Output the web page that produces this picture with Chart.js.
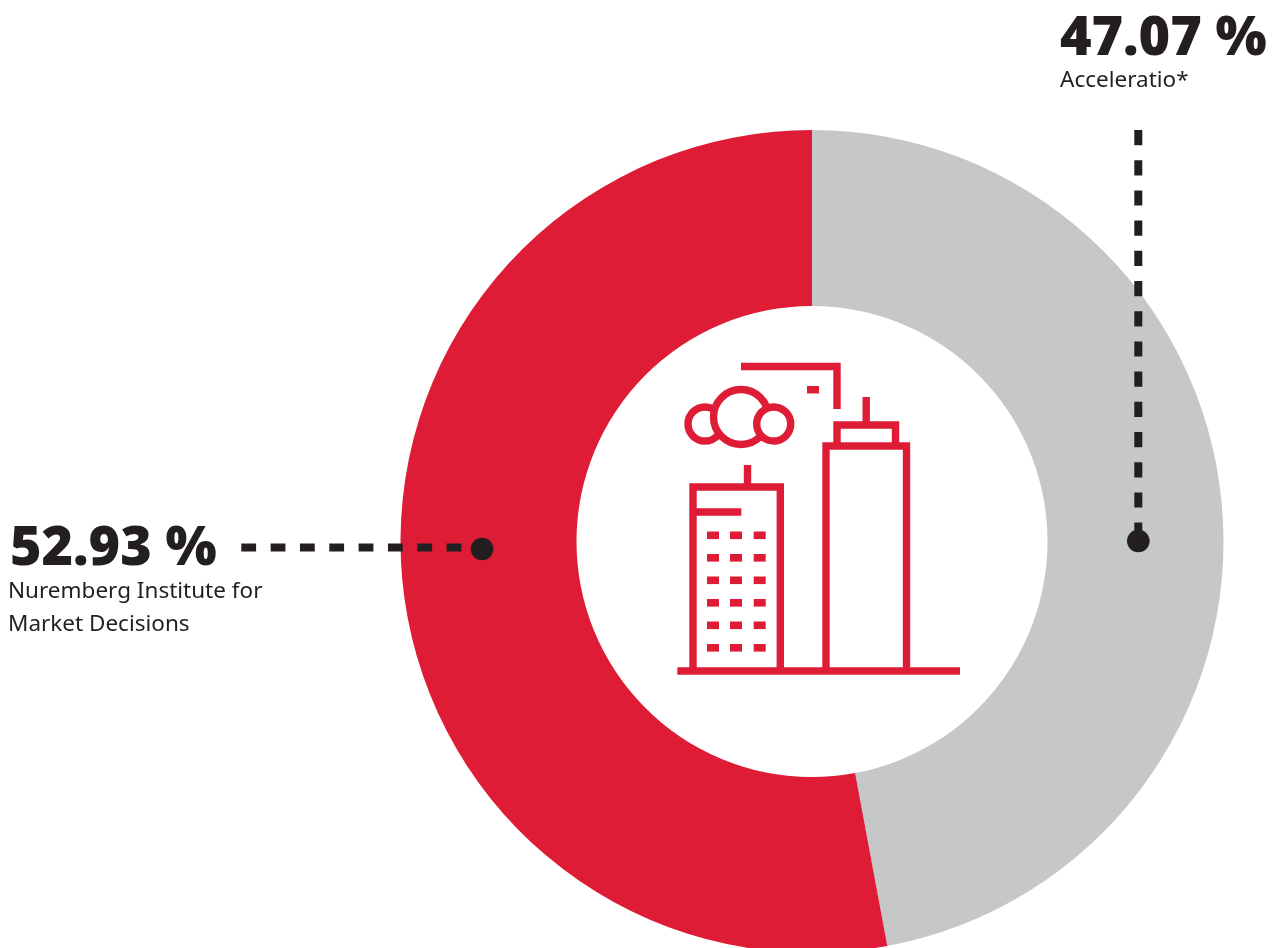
<!DOCTYPE html>
<html>
<head>
<meta charset="utf-8">
<title>Donut</title>
<script src="https://cdn.jsdelivr.net/npm/chart.js@4/dist/chart.umd.min.js"></script>
<style>
  html, body { margin: 0; padding: 0; background: #fff; overflow: hidden; }
  #wrap { position: relative; width: 1282px; height: 948px; overflow: hidden; }
  #wrap canvas { position: absolute; left: 0; top: 0; }
  .pct, .lbl { position: absolute; color: #231f20; white-space: nowrap; }
  .pct { font-family: "Open Sans", sans-serif; font-weight: 800; font-size: 54px; line-height: 54px; letter-spacing: -0.1px; }
  .lbl { font-family: "Noto Sans", sans-serif; font-weight: 400; font-size: 22.5px; line-height: 33px; }
  #icon { position: absolute; left: 0; top: 0; }
</style>
</head>
<body>
<div id="wrap">
  <canvas id="myChart" width="1282" height="953"></canvas>
  <svg id="icon" width="1282" height="948" fill="none" stroke="#df1c35" stroke-width="7.4">
    <path d="M741 366.5H837V409"/>
    <rect x="807" y="386" width="12" height="7.5" fill="#df1c35" stroke="none"/>
    <circle cx="705" cy="424" r="17"/>
    <circle cx="741" cy="417" r="27.5" fill="#fff"/>
    <circle cx="773.7" cy="424" r="17" fill="#fff"/>
    <path d="M693 671V487H780.3V671M747.5 465V487M693 512H741.3"/>
    <path d="M826 671V446H906.5V671M837 446V425H895.5V446M866.2 397V425"/>
    <path d="M677.3 671H960"/>
    <g id="windows" fill="#df1c35" stroke="none"></g>
  </svg>
  <div class="pct" id="pctA" style="left:1060px;top:7px"></div>
  <div class="lbl" id="lblA" style="left:1060px;top:62px"></div>
  <div class="pct" id="pctB" style="left:10px;top:517px"></div>
  <div class="lbl" id="lblB" style="left:8px;top:573px"></div>
</div>
<script>
const categories = ["Acceleratio*", "Nuremberg Institute for Market Decisions"];
const shares = [47.07, 52.93];
const sliceColors = ["#c6c7c9", "#df1c35"];
const labelLinesA = ["Acceleratio*"];
const labelLinesB = ["Nuremberg Institute for", "Market Decisions"];

const windowCols = [707, 730, 753.7];
const windowRows = [531.5, 554, 576.5, 599, 621.5, 644];

// text
document.getElementById("pctA").textContent = shares[0].toFixed(2) + " %";
document.getElementById("pctB").textContent = shares[1].toFixed(2) + " %";
document.getElementById("lblA").innerHTML = labelLinesA.join("<br>");
document.getElementById("lblB").innerHTML = labelLinesB.join("<br>");

// little windows of the left building
let win = document.getElementById("windows");
windowRows.forEach((y) => {
  windowCols.forEach((x) => {
    let r = document.createElementNS("http://www.w3.org/2000/svg", "rect");
    r.setAttribute("x", x);
    r.setAttribute("y", y);
    r.setAttribute("width", 12);
    r.setAttribute("height", 7.6);
    win.appendChild(r);
  });
});

// dashed leaders with a dot at the end, placed from the donut center
const leaders = {
  id: "leaders",
  afterDatasetsDraw(chart) {
    const c = chart.ctx;
    const arc = chart.getDatasetMeta(0).data[0];
    const cx = arc.x, cy = arc.y;
    c.save();
    c.strokeStyle = "#231f20";
    c.fillStyle = "#231f20";
    c.lineWidth = 8;
    c.setLineDash([14.8, 14.53]);
    c.beginPath();
    c.moveTo(cx - 570.7, cy + 6);
    c.lineTo(cx - 345, cy + 6);
    c.stroke();
    c.setLineDash([15.2, 15]);
    c.beginPath();
    c.moveTo(cx + 326.3, cy - 411.5);
    c.lineTo(cx + 326.3, cy);
    c.stroke();
    c.setLineDash([]);
    c.beginPath();
    c.arc(cx - 330, cy + 7.5, 11.3, 0, Math.PI * 2);
    c.fill();
    c.beginPath();
    c.arc(cx + 326.3, cy - 0.5, 11.3, 0, Math.PI * 2);
    c.fill();
    c.restore();
  },
};

var ctx = document.getElementById("myChart");
var myChart = new Chart(ctx, {
  type: "doughnut",
  data: {
    labels: categories,
    datasets: [
      {
        data: shares,
        backgroundColor: sliceColors,
        borderWidth: 0,
      },
    ],
  },
  options: {
    responsive: false,
    animation: false,
    cutout: 235.5,
    radius: 411.5,
    layout: { padding: { left: 400.5, right: 58.5, top: 130, bottom: 0 } },
    plugins: {
      legend: { display: false },
      tooltip: { enabled: false },
    },
  },
  plugins: [leaders],
});
</script>
</body>
</html>
